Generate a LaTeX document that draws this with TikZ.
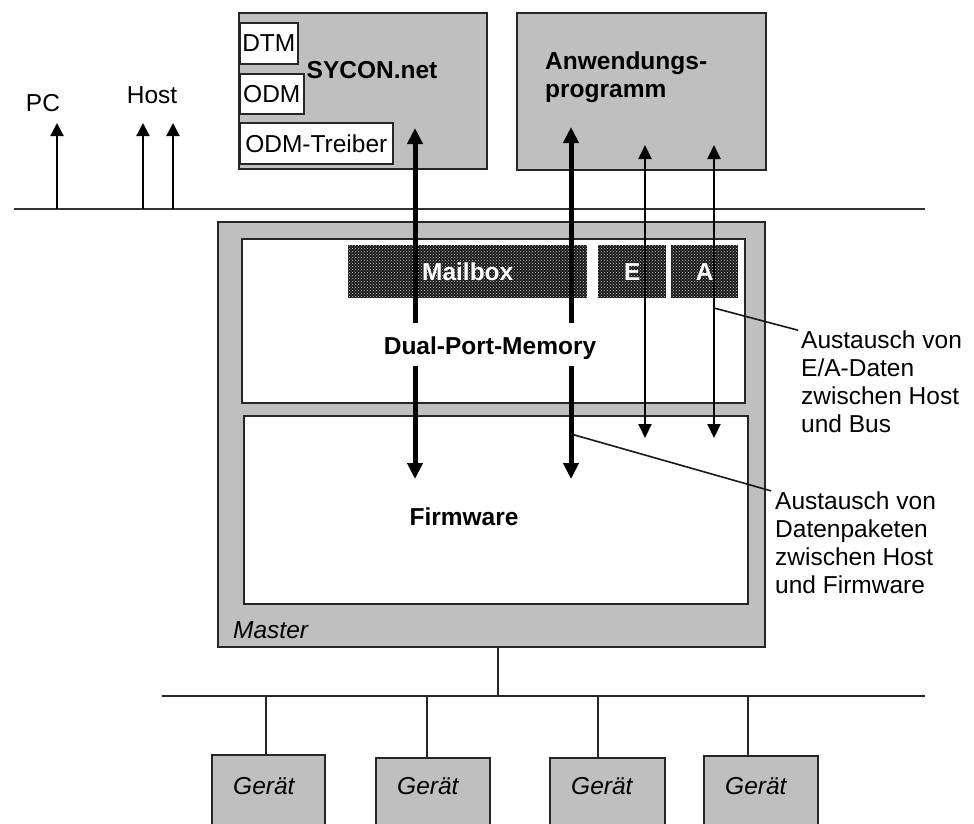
\documentclass[tikz,border=0pt]{standalone}
\usepackage{fontspec}
\setmainfont{Liberation Sans}
\usepackage{tikz}
\usetikzlibrary{arrows.meta, positioning, patterns}

\tikzset{
  greybox/.style={draw=black!85, line width=1.6pt, fill=gray!50, inner sep=0pt, anchor=north west},
  whitebox/.style={draw=black!85, line width=1.6pt, fill=white, inner sep=0pt, anchor=north west},
  darkbox/.style={fill=black!90, postaction={pattern=crosshatch dots, pattern color=white!80!black},
    inner sep=0pt, anchor=north west, minimum height=53pt, text=white, font=\bfseries},
  bigarrow/.style={line width=5pt, -{Triangle[width=15pt, length=16pt]}},
  twoway/.style={line width=2pt, {Triangle[width=13pt, length=14pt]}-{Triangle[width=13pt, length=14pt]}},
  uparrow/.style={line width=2pt, -{Triangle[width=13pt, length=13pt]}},
  busline/.style={line width=1.6pt, black!85},
  leader/.style={line width=1.6pt, black!90},
  note/.style={align=left, anchor=north west, inner sep=0pt},
  itlabel/.style={font=\itshape, anchor=west, inner sep=0pt},
}

\begin{document}
\fontsize{24.5}{28}\selectfont
\begin{tikzpicture}[x=1pt, y=-1pt]
  \clip (0,0) rectangle (974,823);
  % host side: configuration tool and application program
  \node[greybox, minimum width=248pt, minimum height=156pt] (sycon) at (238,12) {};
  \node[whitebox, minimum width=58pt, minimum height=41pt] (dtm) at (239,22) {DTM};
  \node[whitebox, minimum width=64pt, minimum height=40pt] (odm) at (239,73) {ODM};
  \node[whitebox, minimum width=153pt, minimum height=41pt] (treiber) at (239,122) {ODM-Treiber};
  \node[font=\bfseries] (syconlabel) at (372,70) {SYCON.net};
  \node[greybox, minimum width=249pt, minimum height=157pt] (anw) at (516,12) {};
  \node[note, font=\bfseries] (anwlabel) at (545,52) {Anwendungs-\\programm};
  % PC / host line with the three taps
  \coordinate (lanL) at (14,209);
  \coordinate (lanR) at (925,209);
  \draw[line width=2.4pt, black!80] (lanL) -- (lanR);
  \node (pc) at (43,103) {PC};
  \node (host) at (152,95) {Host};
  \coordinate (pctap) at (57,209);
  \coordinate (hosttapA) at (143,209);
  \coordinate (hosttapB) at (173,209);
  \draw[uparrow] (pctap) -- ++(0,-86);
  \draw[uparrow] (hosttapA) -- ++(0,-86);
  \draw[uparrow] (hosttapB) -- ++(0,-86);
  % the master card: dual-port memory above the firmware
  \node[greybox, minimum width=547pt, minimum height=425pt] (master) at (217,221) {};
  \node[whitebox, minimum width=503pt, minimum height=164pt] (dpm) at (241,238) {};
  \node[whitebox, minimum width=504pt, minimum height=188pt] (fw) at (243,415) {};
  \node[darkbox, minimum width=239pt] (mailbox) at (348,245) {Mailbox};
  \node[darkbox, minimum width=68pt] (ebox) at (598,245) {E};
  \node[darkbox, minimum width=67pt] (abox) at (671,245) {A};
  \node[font=\bfseries] (dpmlabel) at (490,348) {Dual-Port-Memory};
  \node[font=\bfseries] (fwlabel) at (464,517) {Firmware};
  \node[itlabel] (masterlabel) at (233,630) {Master};
  % data packets: thick arrows, broken round the DPM label
  \coordinate (pkA) at (415,0);
  \coordinate (pkB) at (571,0);
  \draw[bigarrow] (pkA |- 0,323) -- (pkA |- 0,128);
  \draw[bigarrow] (pkA |- 0,366) -- (pkA |- 0,479);
  \draw[bigarrow] (pkB |- 0,323) -- (pkB |- 0,127);
  \draw[bigarrow] (pkB |- 0,366) -- (pkB |- 0,479);
  % process data: thin arrows both ways
  \coordinate (ioE) at (645,145);
  \coordinate (ioA) at (714,145);
  \draw[twoway] (ioE) -- (ioE |- 0,438);
  \draw[twoway] (ioA) -- (ioA |- 0,438);
  % notes on the right
  \node[note] (ionote) at (801,331) {Austausch von\\E/A-Daten\\zwischen Host\\und Bus};
  \node[note] (pknote) at (775,492) {Austausch von\\Datenpaketen\\zwischen Host\\und Firmware};
  \draw[leader, shorten >=3pt] (ioA |- 0,308) -- (ionote.north west);
  \draw[leader, shorten >=4pt] (pkB |- 0,434) -- (pknote.north west);
  % field bus with the devices
  \coordinate (busL) at (162,696);
  \coordinate (busR) at (925,696);
  \coordinate (tap) at (498,696);
  \draw[busline] (busL) -- (busR);
  \draw[busline] (tap |- master.south) -- (tap);
  \node[greybox, minimum width=113pt, minimum height=110pt] (dev1) at (211,754) {};
  \node[greybox, minimum width=114pt, minimum height=110pt] (dev2) at (375,757) {};
  \node[greybox, minimum width=115pt, minimum height=110pt] (dev3) at (549,757) {};
  \node[greybox, minimum width=114pt, minimum height=110pt] (dev4) at (703,755) {};
  \node[itlabel] (dev1label) at ([xshift=22pt, yshift=-32pt]dev1.north west) {Gerät};
  \node[itlabel] (dev2label) at ([xshift=22pt, yshift=-29pt]dev2.north west) {Gerät};
  \node[itlabel] (dev3label) at ([xshift=22pt, yshift=-29pt]dev3.north west) {Gerät};
  \node[itlabel] (dev4label) at ([xshift=22pt, yshift=-31pt]dev4.north west) {Gerät};
  \coordinate (drop1) at (266,696);
  \coordinate (drop2) at (427,696);
  \coordinate (drop3) at (598,696);
  \coordinate (drop4) at (748,696);
  \draw[busline] (drop1) -- (drop1 |- dev1.north);
  \draw[busline] (drop2) -- (drop2 |- dev2.north);
  \draw[busline] (drop3) -- (drop3 |- dev3.north);
  \draw[busline] (drop4) -- (drop4 |- dev4.north);
\end{tikzpicture}
\end{document}
